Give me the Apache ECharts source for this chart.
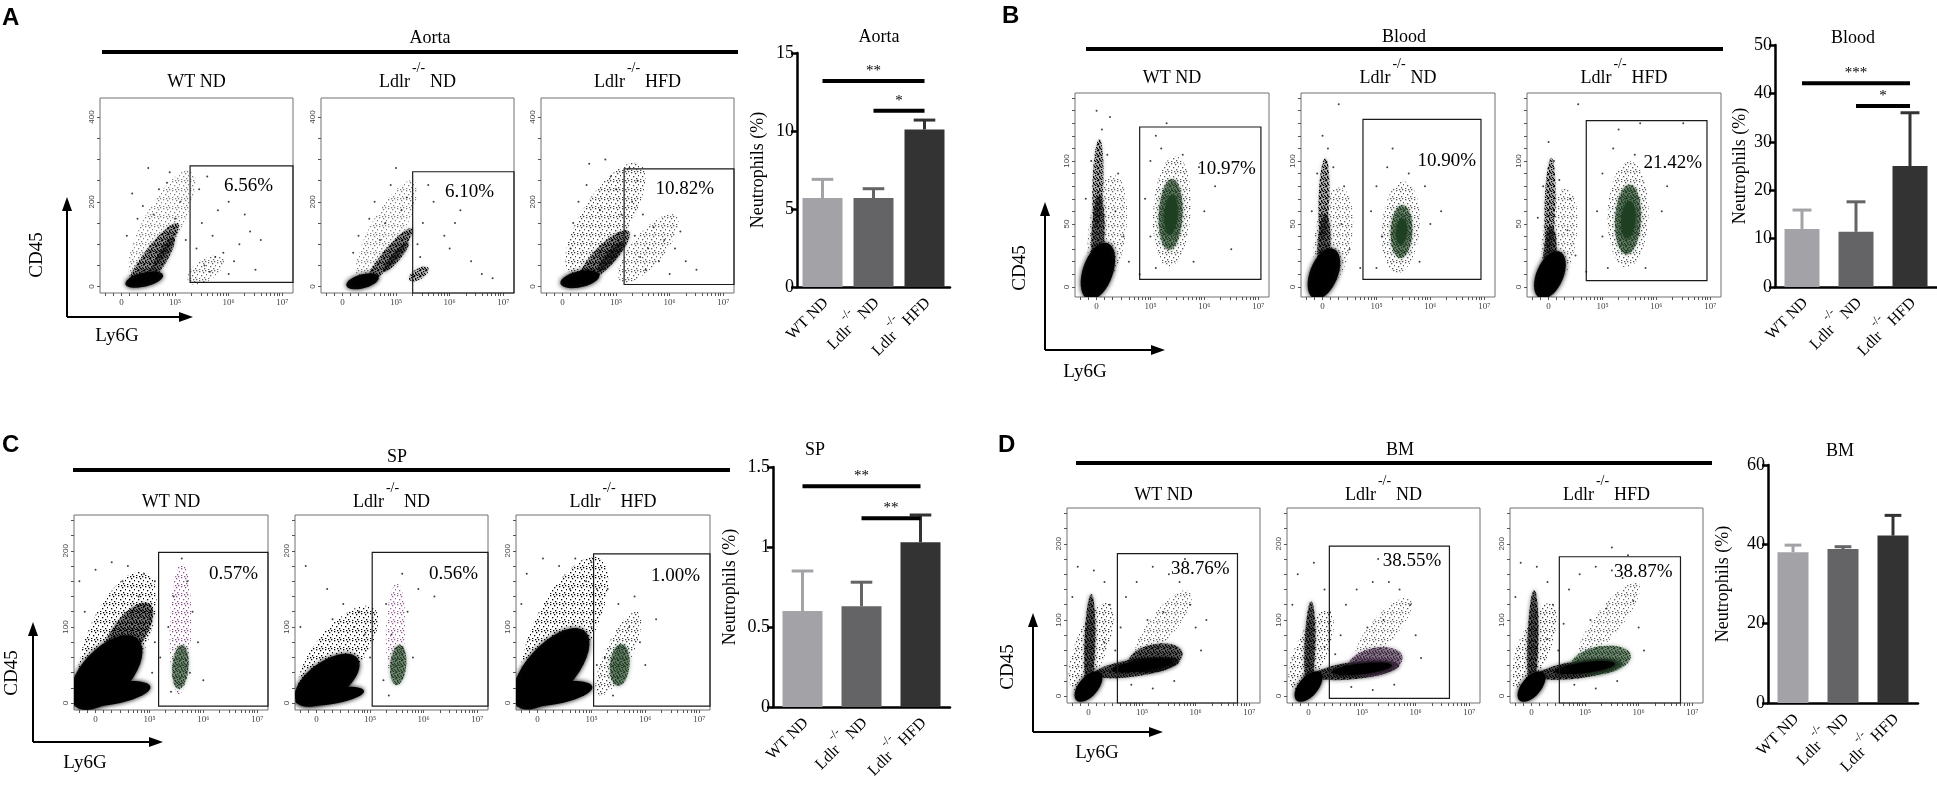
<!DOCTYPE html>
<html>
<head>
    <meta charset="UTF-8">
    <title>Neutrophils in aorta, blood, spleen and bone marrow</title>
    <script src="https://cdn.jsdelivr.net/npm/echarts@6/dist/echarts.min.js"></script>
    <style>html, body { margin: 0; background: #fff; }</style>
</head>
<body>
    <div id="main" style="width:1937px;height:797px;"></div>
    <script>
        // groups and bar values
        var groups = ['WT ND', 'Ldlr-/- ND', 'Ldlr-/- HFD'];
        var aortaMean = [5.7, 5.7, 10.1];
        var aortaTop = [6.9, 6.3, 10.7];
        var bloodMean = [12.0, 11.4, 25.0];
        var bloodTop = [15.9, 17.6, 36.0];
        var spMean = [0.6, 0.63, 1.03];
        var spTop = [0.85, 0.78, 1.2];
        var bmMean = [38.0, 38.8, 42.2];
        var bmTop = [39.8, 39.4, 47.3];

        // significance bars: [from group, to group, height, stars]
        var aortaSig = [[0, 2, 13.2, '**'], [1, 2, 11.3, '*']];
        var bloodSig = [[0, 2, 42.1, '***'], [1, 2, 37.4, '*']];
        var spSig = [[0, 2, 1.38, '**'], [1, 2, 1.18, '**']];
        var bmSig = [];

        // gate percentages
        var aortaPct = ['6.56%', '6.10%', '10.82%'];
        var bloodPct = ['10.97%', '10.90%', '21.42%'];
        var spPct = ['0.57%', '0.56%', '1.00%'];
        var bmPct = ['38.76%', '38.55%', '38.87%'];

        // flow x is on the display scale: 0 = 0, 1 = 10^5, 2 = 10^6, 3 = 10^7
        // gates: [x from, x to, CD45 from, CD45 to]
        var aortaGates = [[1.28, 3.2, 10, 285], [1.31, 3.2, -15, 271], [1.15, 3.2, 5, 278]];
        var bloodGates = [[0.8, 3.05, 6, 127], [0.75, 2.94, 6, 133], [0.7, 2.94, 5, 132]];
        var spGates = [[1.17, 3.2, -4, 198], [1.04, 3.2, -4, 198], [1.04, 3.2, -4, 196]];
        var bmGates = [[0.54, 2.78, -9, 187], [0.39, 2.63, -3, 197], [0.52, 2.78, -9, 183]];

        // event clouds: [x1, y1, x2, y2, half width (x units), density, ink]
        // density < 0.3 sparse speckle, < 0.9 dense speckle, otherwise solid
        var aortaBlobs = [
            [[0.3, 40, 1.2, 250, 0.35, 0.1, 0], [0.2, 10, 1.0, 140, 0.16, 0.4, 0], [0.6, 30, 0.95, 110, 0.1, 0.65, 0], [0.15, 8, 0.7, 25, 0.13, 0.95, 0], [1.35, 20, 1.8, 60, 0.2, 0.12, 0]],
            [[0.4, 40, 1.25, 230, 0.3, 0.1, 0], [0.5, 15, 1.25, 130, 0.13, 0.5, 0], [0.15, 5, 0.6, 20, 0.13, 0.95, 0], [0.8, 40, 1.2, 100, 0.08, 0.7, 0], [1.3, 20, 1.55, 40, 0.1, 0.3, 0]],
            [[0.3, 60, 1.3, 260, 0.45, 0.15, 0], [0.4, 20, 1.15, 120, 0.2, 0.5, 0], [0.05, 10, 0.6, 25, 0.15, 0.95, 0], [0.7, 40, 1.1, 100, 0.1, 0.7, 0], [1.2, 30, 2.0, 150, 0.3, 0.13, 0]]
        ];
        var bloodBlobs = [
            [[0.1, 10, 0.3, 80, 0.35, 0.12, 0], [0.0, 50, 0.05, 115, 0.1, 0.3, 0], [0.0, 10, 0.05, 70, 0.12, 0.7, 0], [-0.1, -3, 0.15, 28, 0.28, 0.95, 0], [1.35, 25, 1.45, 95, 0.35, 0.13, 0], [1.35, 35, 1.4, 80, 0.22, 0.8, 1], [1.36, 45, 1.4, 70, 0.12, 0.95, 1]],
            [[0.1, 10, 0.3, 70, 0.35, 0.12, 0], [0.0, 40, 0.05, 100, 0.1, 0.3, 0], [0.0, 8, 0.05, 55, 0.12, 0.7, 0], [-0.1, -3, 0.15, 24, 0.26, 0.95, 0], [1.4, 20, 1.5, 75, 0.35, 0.13, 0], [1.45, 28, 1.48, 60, 0.2, 0.75, 1], [1.45, 36, 1.48, 52, 0.1, 0.95, 1]],
            [[0.1, 10, 0.3, 70, 0.32, 0.12, 0], [0.0, 30, 0.05, 100, 0.1, 0.3, 0], [0.0, 5, 0.05, 45, 0.12, 0.75, 0], [-0.1, -3, 0.15, 22, 0.25, 0.95, 0], [1.45, 25, 1.5, 90, 0.38, 0.13, 0], [1.45, 32, 1.5, 75, 0.24, 0.8, 1], [1.46, 42, 1.5, 65, 0.13, 0.95, 1]]
        ];
        var spBlobs = [
            [[0.0, 20, 0.8, 150, 0.55, 0.22, 0], [0.3, 60, 0.9, 120, 0.3, 0.55, 0], [-0.2, 10, 0.6, 70, 0.45, 0.95, 0], [-0.3, 5, 0.9, 20, 0.2, 1, 0], [1.55, 20, 1.6, 175, 0.2, 0.25, 2], [1.55, 25, 1.6, 70, 0.15, 0.7, 1]],
            [[-0.1, 20, 0.9, 110, 0.45, 0.2, 0], [-0.2, 10, 0.6, 50, 0.35, 0.95, 0], [-0.3, 3, 0.8, 15, 0.15, 1, 0], [1.45, 40, 1.5, 150, 0.18, 0.18, 2], [1.5, 30, 1.55, 70, 0.15, 0.75, 1]],
            [[0.0, 30, 1.0, 170, 0.55, 0.25, 0], [-0.2, 10, 0.7, 80, 0.45, 0.95, 0], [-0.3, 5, 0.9, 20, 0.2, 1, 0], [1.2, 20, 1.8, 110, 0.25, 0.15, 0], [1.5, 30, 1.55, 70, 0.18, 0.8, 1]]
        ];
        var bmBlobs = [
            [[-0.2, 20, 0.3, 110, 0.3, 0.15, 0], [1.0, 60, 1.8, 130, 0.25, 0.12, 0], [0.0, 5, 0.05, 130, 0.1, 0.8, 0], [-0.15, 0, 0.15, 25, 0.18, 1, 0], [0.2, 30, 1.6, 45, 0.16, 0.85, 0], [0.9, 45, 1.6, 55, 0.26, 0.7, 0], [0.5, 35, 1.5, 45, 0.1, 0.95, 0]],
            [[-0.2, 20, 0.3, 100, 0.3, 0.15, 0], [1.0, 55, 1.8, 120, 0.25, 0.12, 0], [0.0, 5, 0.05, 120, 0.1, 0.8, 0], [-0.15, 0, 0.15, 25, 0.18, 1, 0], [0.2, 28, 1.6, 40, 0.16, 0.85, 0], [0.9, 40, 1.6, 50, 0.26, 0.7, 2], [0.5, 32, 1.5, 40, 0.1, 0.95, 0]],
            [[-0.2, 20, 0.3, 110, 0.3, 0.15, 0], [1.0, 60, 1.9, 140, 0.25, 0.12, 0], [0.0, 5, 0.05, 135, 0.1, 0.8, 0], [-0.15, 0, 0.15, 25, 0.18, 1, 0], [0.2, 28, 1.6, 42, 0.16, 0.85, 0], [0.9, 42, 1.7, 52, 0.26, 0.7, 1], [0.5, 33, 1.5, 42, 0.1, 0.95, 0]]
        ];

        // scattered single events
        var aortaDots = [
            [[1.45, 230], [1.6, 260], [1.5, 150], [1.7, 120], [2.0, 200], [2.2, 100], [1.9, 80], [2.4, 130], [1.4, 90], [1.8, 180], [2.3, 170], [2.6, 110], [2.0, 30], [1.55, 50], [2.1, 60], [2.5, 40], [1.65, 35], [1.75, 70], [0.2, 220], [0.5, 280], [0.9, 270], [0.3, 160], [0.1, 120], [1.1, 200], [0.7, 230], [0.4, 190], [1.0, 160], [0.85, 245], [1.2, 110], [0.6, 170]],
            [[1.7, 200], [1.9, 120], [2.2, 180], [2.4, 60], [2.6, 30], [1.5, 150], [2.0, 90], [2.8, 20], [1.6, 240], [1.45, 70], [2.1, 150], [1.4, 100], [0.6, 200], [0.9, 240], [1.0, 280], [0.3, 120], [0.5, 160], [1.1, 180], [0.8, 150], [0.2, 80], [1.2, 210], [0.7, 110]],
            [[1.3, 200], [1.5, 170], [1.7, 140], [1.9, 110], [2.1, 90], [2.3, 60], [1.4, 250], [1.6, 90], [1.8, 60], [2.0, 30], [1.35, 120], [1.55, 40], [1.25, 280], [2.2, 130], [2.5, 40], [1.45, 70], [0.3, 200], [0.5, 290], [0.8, 300], [1.0, 230], [0.2, 150], [0.7, 180], [1.1, 170], [0.45, 240], [0.9, 260], [0.15, 90]]
        ];
        var bloodDots = [
            [[0.0, 140], [0.1, 125], [-0.1, 100], [0.2, 105], [0.35, 60], [0.5, 40], [0.4, 90], [-0.2, 70], [0.6, 20], [0.8, 10], [1.0, 100], [1.1, 120], [1.2, 110], [1.6, 105], [1.9, 95], [2.0, 60], [1.0, 40], [1.1, 15], [1.8, 20], [2.2, 80], [0.9, 70], [1.3, 130], [2.5, 30], [0.25, 135]],
            [[0.0, 120], [0.1, 110], [-0.1, 90], [0.2, 95], [0.35, 50], [0.5, 30], [0.4, 80], [-0.2, 60], [0.7, 15], [1.0, 80], [1.2, 95], [1.6, 90], [1.9, 80], [2.0, 50], [1.1, 40], [1.0, 15], [1.8, 20], [2.2, 60], [0.9, 60], [1.3, 110], [0.3, 145], [2.4, 100]],
            [[0.0, 115], [0.1, 100], [-0.1, 80], [0.2, 85], [0.35, 45], [0.5, 25], [0.4, 70], [-0.2, 55], [0.7, 12], [1.0, 90], [1.2, 110], [1.6, 105], [1.9, 95], [2.1, 60], [1.0, 40], [1.1, 15], [1.8, 15], [2.2, 80], [0.9, 60], [1.3, 125], [0.55, 145], [2.5, 130], [1.7, 130]]
        ];
        var spDots = [
            [[-0.3, 160], [0.0, 175], [0.3, 185], [0.6, 180], [0.9, 170], [1.1, 160], [0.8, 140], [0.5, 160], [-0.2, 120], [1.0, 110], [1.1, 80], [1.05, 40], [1.6, 190], [1.7, 160], [1.45, 140], [1.8, 120], [1.9, 80], [1.35, 100], [1.75, 40], [1.4, 15], [2.0, 30], [1.2, 60]],
            [[-0.2, 180], [0.2, 150], [0.5, 130], [0.8, 120], [0.9, 90], [-0.3, 100], [1.0, 60], [0.7, 100], [1.6, 170], [1.7, 120], [1.3, 130], [1.4, 90], [1.8, 60], [1.25, 30], [1.9, 150], [2.2, 140], [1.35, 10], [0.3, 110]],
            [[-0.2, 170], [0.1, 190], [0.4, 180], [0.7, 190], [1.0, 185], [1.1, 150], [0.9, 160], [-0.3, 130], [1.0, 100], [1.1, 50], [1.3, 150], [1.5, 130], [1.7, 100], [1.9, 80], [2.0, 50], [1.25, 60], [1.4, 10], [1.8, 140], [2.2, 110], [0.6, 150]]
        ];
        var bmDots = [
            [[-0.2, 170], [0.1, 165], [0.3, 150], [-0.3, 130], [0.4, 120], [0.6, 90], [0.7, 130], [0.9, 150], [1.2, 170], [1.5, 160], [1.7, 150], [1.9, 120], [2.0, 90], [2.1, 60], [1.1, 100], [1.4, 110], [0.5, 60], [0.8, 15], [1.2, 10], [1.6, 20], [0.3, 70], [1.8, 180], [2.2, 100]],
            [[-0.2, 160], [0.1, 175], [0.3, 140], [-0.3, 120], [0.4, 110], [0.6, 80], [0.7, 120], [0.9, 140], [1.2, 150], [1.5, 150], [1.7, 140], [1.9, 120], [2.0, 80], [2.1, 50], [1.1, 90], [1.4, 100], [0.5, 55], [0.8, 12], [1.2, 8], [1.6, 15], [0.3, 65], [1.3, 180]],
            [[-0.2, 175], [0.1, 170], [0.3, 150], [-0.3, 130], [0.4, 120], [0.6, 95], [0.7, 140], [0.9, 160], [1.2, 170], [1.5, 165], [1.7, 155], [1.9, 125], [2.0, 90], [2.1, 60], [1.1, 100], [1.4, 115], [0.5, 60], [0.8, 15], [1.2, 10], [1.6, 20], [0.3, 75], [1.5, 195], [1.8, 185]]
        ];

        var flowXLabels = ['0', '10⁵', '10⁶', '10⁷'];
        var flowXTicks = [-0.3, -0.15, 0, 0.15, 0.3, 0.45, 0.6, 0.7, 0.78, 0.85, 0.9, 0.95, 1, 1.3, 1.48, 1.6, 1.7, 1.78, 1.85, 1.9, 1.95, 2, 2.3, 2.48, 2.6, 2.7, 2.78, 2.85, 2.9, 2.95, 3];

        var serif = 'Liberation Serif';
        var ink = ['#000000', '#1f3f22', '#3d2540'];
        var speckInk = ['#000000', '#1f3f22', '#8a4f8a'];
        var barColors = ['#a3a3a7', '#646466', '#333333'];
        var grids = [], xAxes = [], yAxes = [], series = [], graphic = [];

        // speckle tiles used to fill the sparse and the dense parts of the clouds
        function makeTile(color, size, spots) {
            var c = document.createElement('canvas');
            c.width = size; c.height = size;
            var ctx = c.getContext('2d');
            ctx.fillStyle = color;
            spots.forEach(function (p) { ctx.fillRect(p[0], p[1], 1.3, 1.3); });
            return c;
        }
        var sparseSpots = [[1, 1], [5, 2], [8, 4], [3, 5], [6, 7], [1, 8], [4, 0], [7, 0]];
        var denseSpots = [[0, 0], [3, 1], [5, 0], [1, 2], [4, 3], [2, 4], [0, 5], [5, 4], [3, 5], [1, 3]];
        var sparseTiles = speckInk.map(function (c) { return makeTile(c, 9, sparseSpots); });
        var denseTiles = ink.map(function (c) { return makeTile(c, 6, denseSpots); });

        var titleRich = {
            t: {fontFamily: serif, fontSize: 18, color: '#000', lineHeight: 30, verticalAlign: 'bottom'},
            s: {fontFamily: serif, fontSize: 14, color: '#000', lineHeight: 30, verticalAlign: 'top', padding: [0, 5, 0, 2]}
        };
        var labelRich = {
            t: {fontFamily: serif, fontSize: 16, color: '#000', lineHeight: 26, verticalAlign: 'bottom'},
            s: {fontFamily: serif, fontSize: 12, color: '#000', lineHeight: 26, verticalAlign: 'top', padding: [0, 3, 0, 1]}
        };
        function groupText(name) {
            var parts = name.split(' ');
            if (parts[0] === 'Ldlr-/-') return '{t|Ldlr}{s|-/-}{t|' + parts[1] + '}';
            return '{t|' + name + '}';
        }

        function tickList(step, last) {
            var out = [];
            for (var v = 0; v <= last; v += step) out.push(v);
            return out;
        }

        function renderBlob(params, api) {
            var p1 = api.coord([api.value(0), api.value(1)]);
            var p2 = api.coord([api.value(2), api.value(3)]);
            var w = api.size([api.value(4), 0])[0];
            var dx = p2[0] - p1[0], dy = p2[1] - p1[1];
            var a = Math.sqrt(dx * dx + dy * dy) / 2 + w * 0.6;
            var th = Math.atan2(dy, dx), ct = Math.cos(th), st = Math.sin(th);
            var cx = (p1[0] + p2[0]) / 2, cy = (p1[1] + p2[1]) / 2;
            var pts = [];
            for (var i = 0; i < 36; i++) {
                var t = i / 36 * Math.PI * 2;
                var ex = a * Math.cos(t), ey = w * Math.sin(t);
                pts.push([cx + ex * ct - ey * st, cy + ex * st + ey * ct]);
            }
            var d = api.value(5), k = api.value(6);
            if (d < 0.3) {
                return {type: 'polygon', shape: {points: pts},
                    style: {fill: {image: sparseTiles[k], repeat: 'repeat'}, opacity: Math.min(1, d * 5)}};
            }
            if (d < 0.9) {
                return {type: 'group', children: [
                    {type: 'polygon', shape: {points: pts}, style: {fill: ink[k], opacity: d * 0.55, shadowBlur: 4, shadowColor: ink[k]}},
                    {type: 'polygon', shape: {points: pts}, style: {fill: {image: denseTiles[k], repeat: 'repeat'}}}
                ]};
            }
            return {type: 'polygon', shape: {points: pts}, style: {fill: ink[k], opacity: d, shadowBlur: 5, shadowColor: ink[k]}};
        }

        function makeGate(pct, pad) {
            return function (params, api) {
                var p = api.coord([api.value(0), api.value(3)]);
                var q = api.coord([api.value(1), api.value(2)]);
                return {type: 'group', children: [
                    {type: 'rect', shape: {x: p[0], y: p[1], width: q[0] - p[0], height: q[1] - p[1]},
                        style: {fill: 'none', stroke: '#1a1a1a', lineWidth: 1.2}},
                    {type: 'text', x: q[0] - pad[0], y: p[1] + pad[1],
                        style: {text: pct, fontFamily: serif, fontSize: 19, fill: '#000', align: 'right', verticalAlign: 'middle'}}
                ]};
            };
        }

        function addFlow(boxes, yDef, blobs, dots, gates, pcts, pad, titleY) {
            for (var k = 0; k < 3; k++) {
                var b = boxes[k], gi = grids.length;
                grids.push({left: b[0], top: b[1], width: b[2], height: b[3], show: true, borderColor: '#707070', borderWidth: 1});
                xAxes.push({
                    type: 'value', gridIndex: gi, min: -0.4, max: 3.2,
                    axisLine: {show: false, onZero: false}, splitLine: {show: false},
                    axisTick: {show: true, customValues: flowXTicks, length: 3, lineStyle: {color: '#555'}},
                    axisLabel: {show: true, customValues: [0, 1, 2, 3], fontSize: 9, color: '#444', margin: 5, fontFamily: serif,
                        formatter: function (v) { return flowXLabels[Math.round(v)]; }}
                });
                yAxes.push({
                    type: 'value', gridIndex: gi, min: yDef.min, max: yDef.max,
                    axisLine: {show: false, onZero: false}, splitLine: {show: false},
                    axisTick: {show: true, customValues: yDef.ticks, length: 3, lineStyle: {color: '#555'}},
                    axisLabel: {show: true, customValues: yDef.labels, rotate: 90, fontSize: 8, color: '#444', margin: 4}
                });
                series.push({type: 'custom', xAxisIndex: gi, yAxisIndex: gi, data: blobs[k], renderItem: renderBlob, clip: true, silent: true, z: 2});
                series.push({type: 'scatter', xAxisIndex: gi, yAxisIndex: gi, data: dots[k], symbolSize: 2, itemStyle: {color: '#111'}, silent: true, z: 3});
                series.push({type: 'custom', xAxisIndex: gi, yAxisIndex: gi, data: [gates[k]], renderItem: makeGate(pcts[k], pad), clip: false, silent: true, z: 4});
                graphic.push({type: 'text', x: b[0] + b[2] / 2, y: titleY - 6,
                    style: {text: groupText(groups[k]), rich: titleRich, fontFamily: serif, fontSize: 18, fill: '#000', align: 'center', verticalAlign: 'middle'}});
            }
        }

        function addBars(box, yMax, yStep, means, tops, sig, barW, nameGap) {
            var gi = grids.length;
            grids.push({left: box[0], top: box[1], width: box[2], height: box[3]});
            xAxes.push({
                type: 'category', gridIndex: gi, data: groups,
                axisLine: {lineStyle: {color: '#000', width: 2.5}},
                axisTick: {alignWithLabel: true, length: 7, lineStyle: {color: '#000', width: 2.5}},
                axisLabel: {interval: 0, rotate: 45, margin: 10, formatter: groupText, rich: labelRich}
            });
            yAxes.push({
                type: 'value', gridIndex: gi, min: 0, max: yMax, interval: yStep,
                name: 'Neutrophils (%)', nameLocation: 'middle', nameGap: nameGap,
                nameTextStyle: {fontFamily: serif, fontSize: 18, color: '#000'},
                axisLine: {show: true, lineStyle: {color: '#000', width: 2.5}},
                axisTick: {show: true, length: 6, lineStyle: {color: '#000', width: 2.5}},
                axisLabel: {fontFamily: serif, fontSize: 18, color: '#000', margin: 3},
                splitLine: {show: false}
            });
            series.push({
                type: 'bar', xAxisIndex: gi, yAxisIndex: gi, barWidth: barW, silent: true,
                data: means.map(function (v, i) { return {value: v, itemStyle: {color: barColors[i]}}; })
            });
            series.push({
                type: 'custom', xAxisIndex: gi, yAxisIndex: gi, clip: false, silent: true, z: 3,
                data: means.map(function (v, i) { return [i, v, tops[i]]; }),
                renderItem: function (params, api) {
                    var base = api.coord([api.value(0), api.value(1)]);
                    var top = api.coord([api.value(0), api.value(2)]);
                    var c = barColors[params.dataIndex], h = barW * 0.27;
                    return {type: 'group', children: [
                        {type: 'line', shape: {x1: top[0], y1: base[1], x2: top[0], y2: top[1]}, style: {stroke: c, lineWidth: 3}},
                        {type: 'line', shape: {x1: top[0] - h, y1: top[1], x2: top[0] + h, y2: top[1]}, style: {stroke: c, lineWidth: 3}}
                    ]};
                }
            });
            if (sig.length) {
                series.push({
                    type: 'custom', xAxisIndex: gi, yAxisIndex: gi, clip: false, silent: true, z: 4,
                    data: sig.map(function (s) { return [s[0], s[1], s[2]]; }),
                    renderItem: function (params, api) {
                        var a = api.coord([api.value(0), api.value(2)]);
                        var b = api.coord([api.value(1), api.value(2)]);
                        return {type: 'group', children: [
                            {type: 'line', shape: {x1: a[0], y1: a[1], x2: b[0], y2: b[1]}, style: {stroke: '#000', lineWidth: 4}},
                            {type: 'text', x: (a[0] + b[0]) / 2, y: a[1] - 10,
                                style: {text: sig[params.dataIndex][3], fontFamily: serif, fontSize: 15, fill: '#000', align: 'center', verticalAlign: 'middle'}}
                        ]};
                    }
                });
            }
        }

        function addHeader(letter, lx, ly, tissue, tx, ty, x1, x2, lineY, barTitle, bx, by) {
            graphic.push({type: 'text', x: lx, y: ly, style: {text: letter, fontFamily: 'Liberation Sans', fontWeight: 'bold', fontSize: 24, fill: '#000', align: 'left', verticalAlign: 'middle'}});
            graphic.push({type: 'text', x: tx, y: ty, style: {text: tissue, fontFamily: serif, fontSize: 18, fill: '#000', align: 'center', verticalAlign: 'middle'}});
            graphic.push({type: 'line', shape: {x1: x1, y1: lineY, x2: x2, y2: lineY}, style: {stroke: '#000', lineWidth: 4}});
            graphic.push({type: 'text', x: bx, y: by, style: {text: barTitle, fontFamily: serif, fontSize: 18, fill: '#000', align: 'center', verticalAlign: 'middle'}});
        }

        function addArrows(x0, y0, yTip, xTip, cd, ly) {
            graphic.push({type: 'line', shape: {x1: x0, y1: y0, x2: x0, y2: yTip + 8}, style: {stroke: '#000', lineWidth: 2}});
            graphic.push({type: 'line', shape: {x1: x0, y1: y0, x2: xTip - 8, y2: y0}, style: {stroke: '#000', lineWidth: 2}});
            graphic.push({type: 'polygon', shape: {points: [[x0, yTip], [x0 - 5, yTip + 14], [x0 + 5, yTip + 14]]}, style: {fill: '#000'}});
            graphic.push({type: 'polygon', shape: {points: [[xTip, y0], [xTip - 14, y0 - 5], [xTip - 14, y0 + 5]]}, style: {fill: '#000'}});
            graphic.push({type: 'text', x: cd[0], y: cd[1], rotation: Math.PI / 2,
                style: {text: 'CD45', fontFamily: serif, fontSize: 19, fill: '#000', align: 'center', verticalAlign: 'middle'}});
            graphic.push({type: 'text', x: ly[0], y: ly[1],
                style: {text: 'Ly6G', fontFamily: serif, fontSize: 19, fill: '#000', align: 'center', verticalAlign: 'middle'}});
        }

        var aortaY = {min: -15, max: 445, labels: [0, 200, 400], ticks: tickList(50, 400)};
        var bloodY = {min: -8, max: 154, labels: [0, 50, 100], ticks: tickList(10, 150)};
        var spY = {min: -9, max: 247, labels: [0, 100, 200], ticks: tickList(20, 240)};
        var bmY = {min: -9, max: 247, labels: [0, 100, 200], ticks: tickList(20, 240)};

        // A: aorta
        addHeader('A', 2, 18, 'Aorta', 430, 38, 102, 738, 52, 'Aorta', 879, 37);
        addFlow([[100, 98, 193, 195], [321, 98, 193, 195], [541, 98, 193, 195]], aortaY, aortaBlobs, aortaDots, aortaGates, aortaPct, [20, 20], 82);
        addArrows(67, 317, 197, 193, [37, 255], [117, 336]);
        addBars([797, 53, 153, 234], 15, 5, aortaMean, aortaTop, aortaSig, 40, 30);

        // B: blood
        addHeader('B', 1002, 16, 'Blood', 1404, 37, 1086, 1723, 49, 'Blood', 1853, 38);
        addFlow([[1075, 93, 194, 204], [1301, 93, 194, 204], [1527, 93, 194, 204]], bloodY, bloodBlobs, bloodDots, bloodGates, bloodPct, [5, 42], 78);
        addArrows(1045, 350, 202, 1165, [1020, 268], [1085, 372]);
        addBars([1775, 45, 162, 242], 50, 10, bloodMean, bloodTop, bloodSig, 35, 26);

        // C: spleen
        addHeader('C', 2, 445, 'SP', 397, 457, 73, 730, 470, 'SP', 815, 450);
        addFlow([[74, 515, 194, 195], [295, 515, 193, 195], [516, 515, 194, 195]], spY, spBlobs, spDots, spGates, spPct, [10, 22], 502);
        addArrows(33, 742, 622, 163, [12, 673], [85, 763]);
        addBars([773, 467, 177, 240], 1.5, 0.5, spMean, spTop, spSig, 40, 34);

        // D: bone marrow
        addHeader('D', 998, 445, 'BM', 1400, 450, 1076, 1712, 463, 'BM', 1840, 451);
        addFlow([[1067, 508, 193, 195], [1287, 508, 193, 195], [1510, 508, 193, 195]], bmY, bmBlobs, bmDots, bmGates, bmPct, [8, 15], 495);
        addArrows(1033, 732, 613, 1163, [1008, 667], [1097, 753]);
        addBars([1768, 465, 150, 238], 60, 20, bmMean, bmTop, bmSig, 31, 36);

        var chart = echarts.init(document.getElementById('main'));
        chart.setOption({
            animation: false,
            backgroundColor: '#fff',
            grid: grids,
            xAxis: xAxes,
            yAxis: yAxes,
            series: series,
            graphic: graphic
        });
    </script>
</body>
</html>
